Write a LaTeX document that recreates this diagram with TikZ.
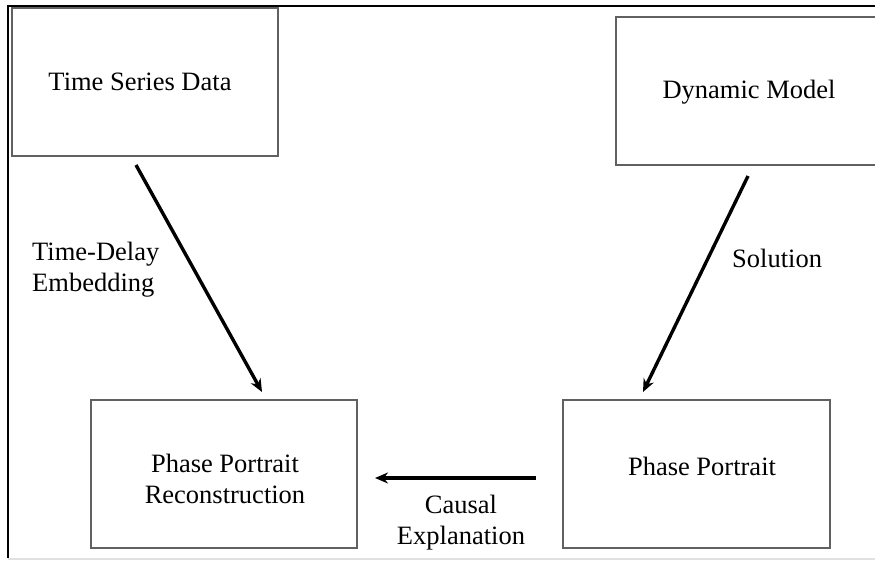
\documentclass[tikz,border=0pt]{standalone}
\usepackage{fontspec}
\setmainfont{Liberation Serif}
\usetikzlibrary{arrows.meta}
\begin{document}
\begin{tikzpicture}[x=1pt,y=-1pt,
  box/.style={draw=black!62,line width=1.7pt,minimum width=#1,minimum height=148pt,inner sep=0pt},
  txt/.style={font=\fontsize{26.5}{31}\selectfont,align=center,inner sep=0pt},
  conn/.style={line width=3.4pt,-{Stealth[length=13pt,width=11pt]}}]
\useasboundingbox (0,0) rectangle (875,560);
\fill[white] (0,0) rectangle (875,560);
\begin{scope}
\clip (0,0) rectangle (875,560);
% frame
\draw[black,line width=2.6pt] (8,6) -- (880,6);
\draw[black,line width=2.6pt] (8,5) -- (8,558);
\draw[black!12,line width=1.8pt] (8,559) -- (880,559);
% boxes
\node[box=266pt] (tsd) at (145,82) {};
\node[box=266pt] (dm) at (749,91) {};
\node[box=266pt] (ppr) at (224,474) {};
\node[box=267pt] (pp) at (696.5,474) {};
\node[txt] (tsdt) at (140,82) {Time Series Data};
\node[txt] (dmt) at (749,92) {Dynamic Model};
\node[txt] (pprt) at (225,479) {Phase Portrait\\Reconstruction};
\node[txt] (ppt) at (702,466) {Phase Portrait};
% connector ends
\coordinate (a1) at (136,165);
\coordinate (a2) at (262,392);
\coordinate (b1) at (748,176);
\coordinate (b2) at (643,392);
\coordinate (c1) at (536,478);
\coordinate (c2) at (375,478);
\draw[conn] (a1) -- (a2);
\draw[conn] (b1) -- (b2);
\draw[conn] (c1) -- (c2);
% labels
\node[txt,align=left,anchor=west] (tde) at (32,270) {Time-Delay\\Embedding};
\node[txt,anchor=west] (sol) at (732,258) {Solution};
\node[txt] (ce) at (461,523) {Causal\\Explanation};
\end{scope}
\end{tikzpicture}
\end{document}
